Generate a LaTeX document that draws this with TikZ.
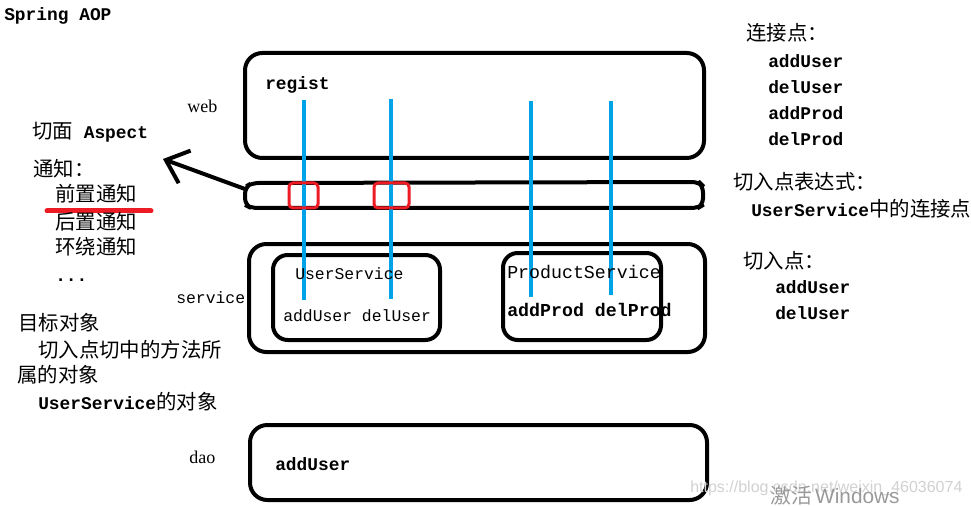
\documentclass[tikz,border=0pt]{standalone}
\usepackage{fontspec}
\setmainfont{Liberation Serif}
\newfontfamily\cjk{Noto Sans CJK SC}
\newfontfamily\mono{Liberation Mono}
\newfontfamily\wmsans{Liberation Sans}
\usetikzlibrary{arrows.meta}
\definecolor{aopblue}{RGB}{0,162,232}
\definecolor{aopred}{RGB}{237,28,36}
\newcommand{\tb}[1]{{\mono\bfseries\fontsize{13.4}{16}\selectfont #1}}
\newcommand{\tr}[1]{{\mono\fontsize{12.3}{15}\selectfont #1}}
\newcommand{\zh}[1]{{\cjk\fontsize{15.3}{18}\selectfont #1}}

\begin{document}
\begin{tikzpicture}[x=0.75pt,y=0.75pt,yscale=-1,xscale=1,
  layerbox/.style={line width=3pt, rounded corners=13pt},
  classbox/.style={line width=3pt, rounded corners=11pt},
  joinline/.style={line width=3pt, aopblue},
  cutmark/.style={line width=2.25pt, aopred, rounded corners=3pt},
  txt/.style={anchor=base west, inner sep=0pt},
  advice/.style={line width=3pt, -{Straight Barb[length=15pt,width=26pt]}}]
\clip (0,0) rectangle (971,506);

%Layers web / service / dao
\draw [layerbox] (245,53) rectangle (704,158);
\draw [layerbox] (249,244) rectangle (705,352);
\draw [layerbox] (250,425) rectangle (707,500);
%Classes
\draw [classbox] (273,255) rectangle (440,340);
\draw [classbox] (503,253) rectangle (661,340);
%Aspect bar
\draw [line width=3pt, rounded corners=5pt] (245,187) -- (252,183) -- (699,182) -- (703,186) -- (703,205) -- (698,208) -- (251,208) -- (245,205) -- cycle;

%Join points
\draw [joinline] (304,100) -- (304,300);
\draw [joinline] (391,99) -- (391,299);
\draw [joinline] (531,101) -- (531,297);
\draw [joinline] (611,101) -- (611,295);

%Pointcut marks
\draw [cutmark] (289,183) rectangle (318,208);
\draw [cutmark] (374,183) rectangle (409,208);
\draw [line width=3.75pt, aopred, line cap=round] (47,211) -- (151,211);

%Arrow to aspect
\coordinate (barend) at (245,189);
\coordinate (aspecttip) at (163,159);
\draw [advice] (barend) -- (aspecttip);

% Text Node
\node [txt] (title) at (4,21) {\tb{Spring AOP}};
\node [txt] (regist) at (265,90) {\tb{regist}};
\node [txt, font=\fontsize{13.5}{16}\selectfont] (web) at (187,113) {web};
\node [txt] (svc) at (176,303) {\tr{service}};
\node [txt, font=\fontsize{13.5}{16}\selectfont] (dao) at (189,463) {dao};
\node [txt] (daoadd) at (275,470) {\tb{addUser}};
\node [txt] (usvc) at (295,279) {\tr{UserService}};
\node [txt] (umeth) at (283,321) {\tr{addUser delUser}};
\node [txt] (psvc) at (507,278) {{\mono\fontsize{13.7}{16}\selectfont ProductService}};
\node [txt] (pmeth) at (507,316) {{\mono\bfseries\fontsize{13.7}{16}\selectfont addProd delProd}};

% Text Node
\node [txt] (aspect) at (32,139) {\zh{切面}\tb{ Aspect}};
\node [txt] (advice) at (33,176) {\zh{通知：}};
\node [txt] (before) at (55,202) {\zh{前置通知}};
\node [txt] (after) at (55,229) {\zh{后置通知}};
\node [txt] (around) at (55,254) {\zh{环绕通知}};
\node [txt] (more) at (55,281) {\tb{...}};
\node [txt] (target) at (18,330) {\zh{目标对象}};
\node [txt] (target1) at (38,357) {\zh{切入点切中的方法所}};
\node [txt] (target2) at (17,382) {\zh{属的对象}};
\node [txt] (target3) at (38,409) {\tb{UserService}\zh{的对象}};

% Text Node
\node [txt] (jp) at (746,41) {\zh{连接点：}};
\node [txt] (jp1) at (768,68) {\tb{addUser}};
\node [txt] (jp2) at (768,94) {\tb{delUser}};
\node [txt] (jp3) at (768,120) {\tb{addProd}};
\node [txt] (jp4) at (768,146) {\tb{delProd}};
\node [txt] (pcexpr) at (733,190) {\zh{切入点表达式：}};
\node [txt] (pcexpr1) at (751,217) {\tb{UserService}\zh{中的连接点}};
\node [txt] (pc) at (743,268) {\zh{切入点：}};
\node [txt] (pc1) at (775,293) {\tb{addUser}};
\node [txt] (pc2) at (775,319) {\tb{delUser}};

% Watermark
\node [txt, text=black!18] (wmurl) at (690,492) {\wmsans\fontsize{12}{14}\selectfont https://blog.csdn.net/weixin\_46036074};
\node [txt, text=black!40] (wmwin) at (770,503) {{\cjk\fontsize{15.6}{18}\selectfont 激活} {\wmsans\fontsize{15.6}{18}\selectfont Windows}};
\end{tikzpicture}
\end{document}
